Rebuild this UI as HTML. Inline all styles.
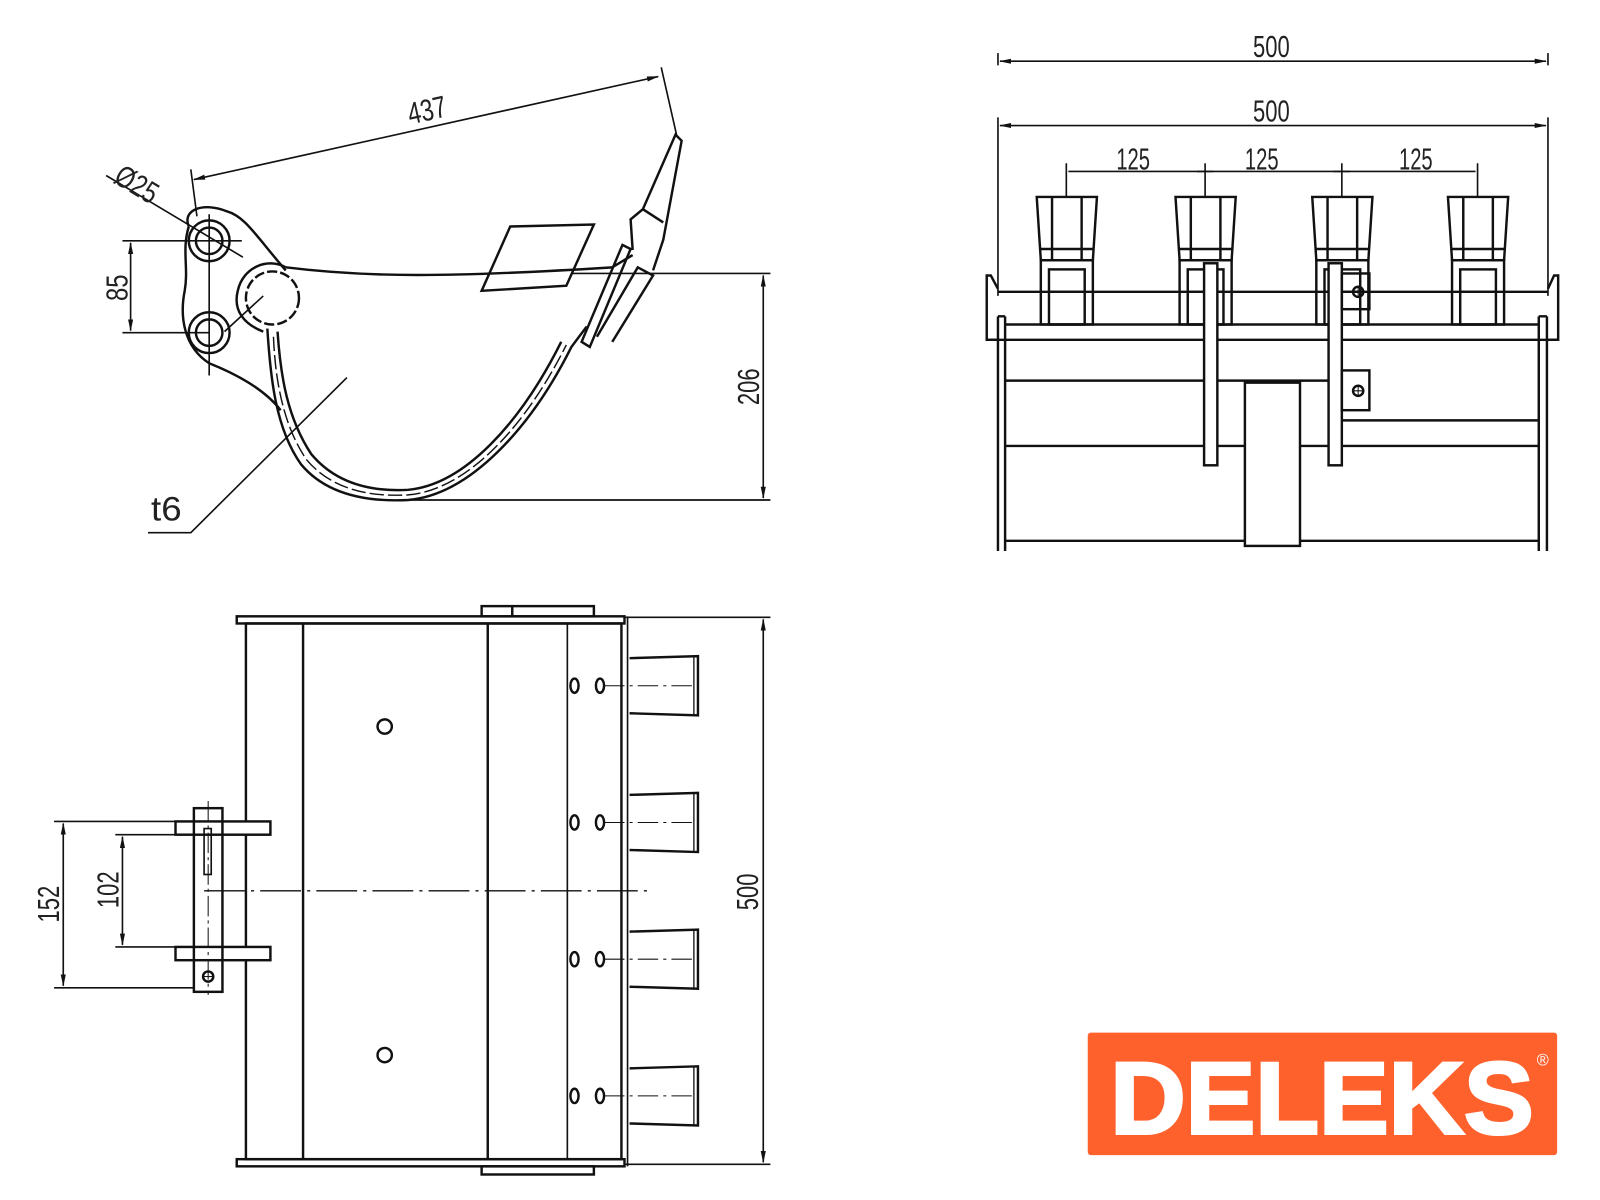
<!DOCTYPE html>
<html><head><meta charset="utf-8"><style>
html,body{margin:0;padding:0;background:#fff;}
svg{display:block;}
text{font-family:"Liberation Sans",sans-serif;fill:#222;}
</style></head><body>
<svg width="1600" height="1200" viewBox="0 0 1568 1176" xmlns="http://www.w3.org/2000/svg">
<defs>
<marker id="a" markerWidth="12" markerHeight="6" refX="11" refY="3" orient="auto" markerUnits="userSpaceOnUse"><path d="M0,0.5 L12,3 L0,5.5z" fill="#111"/></marker>
<marker id="b" markerWidth="12" markerHeight="6" refX="1" refY="3" orient="auto" markerUnits="userSpaceOnUse"><path d="M12,0.5 L0,3 L12,5.5z" fill="#111"/></marker>
</defs>
<g stroke="#111" stroke-width="2.4" fill="none">
<!-- ============ SIDE VIEW ============ -->
<line x1="190" y1="176" x2="645" y2="75" marker-start="url(#b)" marker-end="url(#a)" stroke-width="1.6"/>
<line x1="187" y1="166" x2="193" y2="212" stroke-width="1.6"/>
<line x1="648" y1="66" x2="663" y2="132" stroke-width="1.6"/>
<line x1="104" y1="172" x2="238" y2="252" stroke-width="1.6"/>
<path d="M185,222 C178,205 200,198 222,207 C240,212 250,230 280,265"/>
<path d="M185,222 C178,245 185,262 181,285 C176,310 180,340 205,356 C240,370 262,385 275,402"/>
<circle cx="205" cy="236" r="20"/><circle cx="205" cy="236" r="13"/>
<circle cx="205" cy="326" r="20"/><circle cx="205" cy="326" r="13"/>
<line x1="120" y1="236" x2="237" y2="236" stroke-width="1.6"/>
<line x1="120" y1="326" x2="205" y2="326" stroke-width="1.6"/>
<line x1="205" y1="210" x2="205" y2="368" stroke-width="1.6"/>
<line x1="128" y1="238" x2="128" y2="324" marker-start="url(#b)" marker-end="url(#a)" stroke-width="1.6"/>
<line x1="220" y1="325" x2="258" y2="290" stroke-width="1.6"/>
<path d="M280,262 C262,252 238,262 233,285 C228,305 240,318 258,325"/>
<circle cx="267" cy="292" r="26" stroke-dasharray="10 3"/>
<path d="M280,262 C360,272 440,272 600,262"/>
<path d="M500,222 L582,220 L555,280 L472,285 Z"/>
<path d="M262,322 C265,370 270,420 295,455 C320,485 360,492 400,490 C460,485 520,420 560,340 L575,320"/>
<path d="M272,325 C275,370 282,410 305,445 C330,475 365,482 400,480 C455,475 510,415 550,335"/>
<path d="M268,330 C270,380 280,420 300,450 C325,480 362,487 400,485 C458,480 515,418 555,338" stroke-dasharray="14 4" stroke-width="1.4"/>
<path d="M570,335 L610,240 L618,244 L578,340 Z"/>
<path d="M585,330 L625,262 L640,270 L600,335" />
<path d="M620,245 L618,215 L630,205 L662,132 L668,138 L650,235 L640,265"/>
<path d="M630,205 L650,218"/>
<path d="M600,262 L620,250"/>
<line x1="560" y1="268" x2="755" y2="268" stroke-width="1.6"/>
<line x1="400" y1="490" x2="755" y2="490" stroke-width="1.6"/>
<line x1="748" y1="270" x2="748" y2="488" marker-start="url(#b)" marker-end="url(#a)" stroke-width="1.6"/>
<polyline points="340,370 187,522 145,522" stroke-width="1.6"/>

<!-- ============ FRONT VIEW ============ -->
<line x1="980" y1="60" x2="1515" y2="60" marker-start="url(#b)" marker-end="url(#a)" stroke-width="1.6"/>
<line x1="978" y1="52" x2="978" y2="64" stroke-width="1.6"/><line x1="1517" y1="52" x2="1517" y2="64" stroke-width="1.6"/>
<line x1="980" y1="123" x2="1515" y2="123" marker-start="url(#b)" marker-end="url(#a)" stroke-width="1.6"/>
<line x1="978" y1="115" x2="978" y2="290" stroke-width="1.6"/><line x1="1517" y1="115" x2="1517" y2="290" stroke-width="1.6"/>
<line x1="1047" y1="168" x2="1446" y2="168" stroke-width="1.6"/>
<g stroke-width="1.6">
<line x1="1045" y1="160" x2="1045" y2="193"/><line x1="1181" y1="160" x2="1181" y2="193"/><line x1="1315" y1="160" x2="1315" y2="193"/><line x1="1448" y1="160" x2="1448" y2="193"/>
<line x1="1173" y1="168" x2="1189" y2="168"/><line x1="1307" y1="168" x2="1323" y2="168"/>
</g>
<g id="t">
<path d="M1016,193 L1075,193 L1071,255 L1020,255 Z"/>
<line x1="1031" y1="193" x2="1031" y2="255"/><line x1="1060" y1="193" x2="1060" y2="255"/>
<line x1="1020" y1="244" x2="1071" y2="244"/>
<rect x="1020" y="255" width="51" height="63"/>
<rect x="1028" y="264" width="35" height="54"/>
<line x1="1028" y1="286" x2="1063" y2="286"/>
</g>
<use href="#t" x="136"/><use href="#t" x="270"/><use href="#t" x="403"/>
<line x1="978" y1="286" x2="1517" y2="286"/>
<line x1="967" y1="333" x2="1527" y2="333"/>
<line x1="985" y1="318" x2="1508" y2="318"/>
<path d="M978,333 L967,333 L967,270 L971,270 L978,283"/>
<path d="M1517,333 L1527,333 L1527,270 L1523,270 L1517,283"/>
<path d="M978,310 L978,540 M985,310 L985,540 M978,310 L985,310"/>
<path d="M1508,310 L1508,540 M1516,310 L1516,540 M1508,310 L1516,310"/>
<line x1="985" y1="373" x2="1315" y2="373"/>
<line x1="1315" y1="412" x2="1508" y2="412"/>
<line x1="985" y1="437" x2="1508" y2="437"/>
<line x1="985" y1="530" x2="1508" y2="530"/>
<rect x="1220" y="375" width="54" height="160" fill="#fff"/>
<rect x="1180" y="258" width="13" height="198" fill="#fff"/>
<rect x="1302" y="258" width="13" height="198" fill="#fff"/>
<rect x="1315" y="268" width="27" height="35"/><circle cx="1331" cy="286" r="5"/><path d="M1326,286h10M1331,281v10" stroke-width="1"/>
<rect x="1315" y="363" width="27" height="39"/><circle cx="1331" cy="383" r="5"/><path d="M1326,383h10M1331,378v10" stroke-width="1"/>

<!-- ============ PLAN VIEW ============ -->
<rect x="232" y="604" width="380" height="7"/>
<rect x="232" y="1136" width="380" height="7"/>
<rect x="472" y="594" width="110" height="10"/><line x1="502" y1="594" x2="502" y2="604"/>
<rect x="472" y="1143" width="110" height="8"/>
<rect x="241" y="611" width="368" height="525"/>
<line x1="297" y1="611" x2="297" y2="1136"/>
<line x1="478" y1="611" x2="478" y2="1136"/>
<line x1="556" y1="611" x2="556" y2="1136" stroke-width="1.6"/>
<line x1="615" y1="604" x2="615" y2="1143" stroke-width="1.6"/>
<line x1="612" y1="605" x2="755" y2="605" stroke-width="1.6"/>
<line x1="612" y1="1141" x2="755" y2="1141" stroke-width="1.6"/>
<line x1="748" y1="607" x2="748" y2="1139" marker-start="url(#b)" marker-end="url(#a)" stroke-width="1.6"/>
<g id="pt">
<path d="M617,645 L684,643 L684,701 L617,699"/>
<line x1="680" y1="643" x2="680" y2="701" stroke-width="1.3"/>
<ellipse cx="563" cy="672" rx="4" ry="7"/><ellipse cx="588" cy="672" rx="4" ry="7"/>
<line x1="592" y1="672" x2="684" y2="672" stroke-width="1" stroke-dasharray="20 5 3 5"/>
</g>
<use href="#pt" y="134"/><use href="#pt" y="268"/><use href="#pt" y="402"/>
<circle cx="377" cy="712" r="7"/><circle cx="377" cy="1034" r="7"/>
<line x1="200" y1="873" x2="637" y2="873" stroke-width="1.3" stroke-dasharray="40 6 3 6"/>
<rect x="172" y="805" width="93" height="13" fill="#fff"/>
<rect x="172" y="928" width="93" height="13" fill="#fff"/>
<rect x="190" y="792" width="28" height="180" fill="none"/>
<line x1="204" y1="785" x2="204" y2="975" stroke-width="1" stroke-dasharray="20 4 3 4"/>
<rect x="200" y="812" width="7" height="45" stroke-width="1.6"/>
<circle cx="204" cy="957" r="5"/><path d="M199,957h10" stroke-width="1"/>
<line x1="53" y1="805" x2="190" y2="805" stroke-width="1.6"/>
<line x1="53" y1="968" x2="190" y2="968" stroke-width="1.6"/>
<line x1="62" y1="807" x2="62" y2="966" marker-start="url(#b)" marker-end="url(#a)" stroke-width="1.6"/>
<line x1="113" y1="818" x2="190" y2="818" stroke-width="1.6"/>
<line x1="113" y1="928" x2="190" y2="928" stroke-width="1.6"/>
<line x1="120" y1="820" x2="120" y2="926" marker-start="url(#b)" marker-end="url(#a)" stroke-width="1.6"/>
</g>

<g font-size="30">
<text x="0" y="0" textLength="38" lengthAdjust="spacingAndGlyphs" transform="translate(402,122) rotate(-12.5)">437</text>
<text x="0" y="0" textLength="44" lengthAdjust="spacingAndGlyphs" transform="translate(110,178) rotate(31)">Ø25</text>
<text x="0" y="0" textLength="26" lengthAdjust="spacingAndGlyphs" transform="translate(125,295) rotate(-90)">85</text>
<text x="0" y="0" textLength="36" lengthAdjust="spacingAndGlyphs" transform="translate(744,397) rotate(-90)">206</text>
<text x="148" y="510" font-size="34" textLength="30" lengthAdjust="spacingAndGlyphs" fill="#3a2a10">t6</text>
<text x="1228" y="56" textLength="36" lengthAdjust="spacingAndGlyphs">500</text>
<text x="1228" y="119" textLength="36" lengthAdjust="spacingAndGlyphs">500</text>
<text x="1094" y="166" textLength="33" lengthAdjust="spacingAndGlyphs">125</text>
<text x="1220" y="166" textLength="33" lengthAdjust="spacingAndGlyphs">125</text>
<text x="1371" y="166" textLength="33" lengthAdjust="spacingAndGlyphs">125</text>
<text x="0" y="0" textLength="36" lengthAdjust="spacingAndGlyphs" transform="translate(743,892) rotate(-90)">500</text>
<text x="0" y="0" textLength="36" lengthAdjust="spacingAndGlyphs" transform="translate(58,904) rotate(-90)">152</text>
<text x="0" y="0" textLength="36" lengthAdjust="spacingAndGlyphs" transform="translate(116,890) rotate(-90)">102</text>
</g>

<rect x="1066" y="1012" width="460" height="120" rx="3" fill="#ff612d"/>
<text x="1088" y="1111" font-size="100" font-weight="bold" textLength="415" lengthAdjust="spacingAndGlyphs" style="fill:#fff;stroke:#fff;stroke-width:3">DELEKS</text>
<text x="1506" y="1044" font-size="16" style="fill:#fff">®</text>
</svg>
</body></html>
